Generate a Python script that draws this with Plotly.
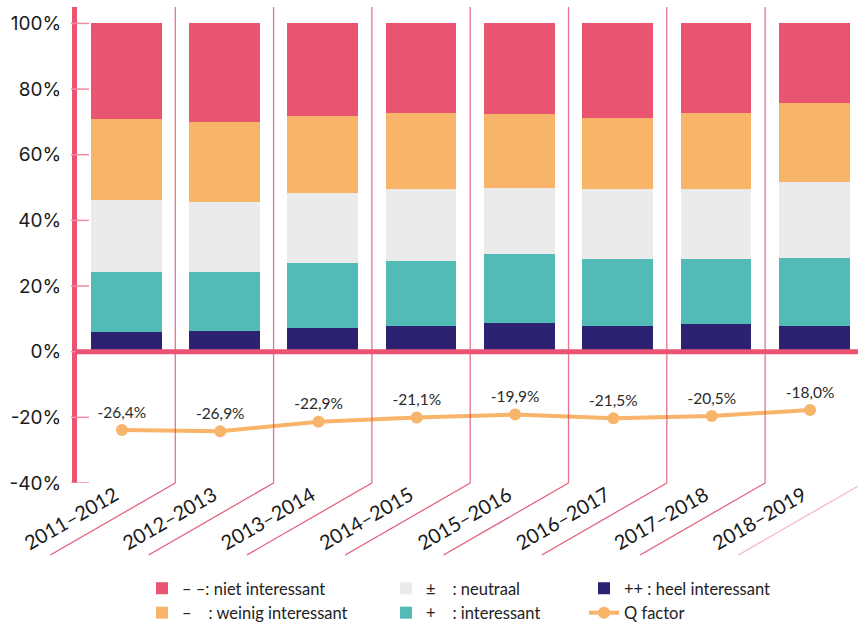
import plotly.graph_objects as go

seasons = ["2011–2012", "2012–2013", "2013–2014", "2014–2015",
           "2015–2016", "2016–2017", "2017–2018", "2018–2019"]
heel_interessant = [6.0, 6.3, 7.2, 7.8, 8.7, 7.8, 8.4, 7.8]
interessant = [18.2, 17.9, 19.8, 19.8, 21.0, 20.4, 19.8, 20.7]
neutraal = [22.0, 21.3, 21.3, 21.9, 20.1, 21.3, 21.3, 23.1]
weinig_interessant = [24.6, 24.4, 23.4, 23.1, 22.5, 21.6, 23.1, 24.3]
niet_interessant = [29.2, 30.1, 28.3, 27.4, 27.7, 28.9, 27.4, 24.1]
q_factor = [-26.4, -26.9, -22.9, -21.1, -19.9, -21.5, -20.5, -18.0]
y_ticks = [100, 80, 60, 40, 20, 0, -20, -40]
y_tick_labels = ["100%", "80%", "60%", "40%", "20%", "0%", "-20%", "-40%"]

NBSP = "\u00a0"
names = {
    "niet": "–" + NBSP + "–: niet interessant",
    "weinig": "–" + NBSP * 4 + ": weinig interessant",
    "neutraal": "±" + NBSP * 4 + ": neutraal",
    "interessant": "+" + NBSP * 4 + ": interessant",
    "heel": "++" + NBSP + ": heel interessant",
    "q": "Q factor",
}

C_PINK = "#E95471"
C_ORANGE = "#F8B469"
C_GRAY = "#EBEBEB"
C_TEAL = "#53BBB6"
C_NAVY = "#2B2272"
C_AXIS = "#EB5373"

FONT = "Lato, 'Noto Sans', sans-serif"

fig = go.Figure()
bar_w = 0.72
for vals, name, col, leg in [
    (heel_interessant, names["heel"], C_NAVY, "legend3"),
    (interessant, names["interessant"], C_TEAL, "legend2"),
    (neutraal, names["neutraal"], C_GRAY, "legend2"),
    (weinig_interessant, names["weinig"], C_ORANGE, "legend"),
    (niet_interessant, names["niet"], C_PINK, "legend"),
]:
    fig.add_trace(go.Bar(x=seasons, y=vals, name=name, marker_color=col,
                         marker_line_width=0, width=bar_w, legend=leg,
                         hoverinfo="skip"))

q_text = [("%.1f" % v).replace(".", ",") + "%" for v in q_factor]
fig.add_trace(go.Scatter(
    x=seasons, y=q_factor, name=names["q"], mode="lines+markers+text",
    line=dict(color=C_ORANGE, width=4), marker=dict(size=12, color=C_ORANGE),
    text=q_text, textposition="top center",
    textfont=dict(family=FONT, size=15.5, color="#2a2a2a"),
    xaxis="x2", yaxis="y2", legend="legend3", cliponaxis=False))

# geometry
L, T, B = 77, 7, 142
W, H = 858, 625
pw, ph = W - L, H - T - B
xr = [-0.5, 7.445]
xoff = 0.043
yr = [-40, 105]
y2r = [-48.66, 151.3]

def xpaper(v):
    return (v - xr[0]) / (xr[1] - xr[0])

shapes = []
# vertical separators + diagonal lines
for i in range(len(seasons)):
    b = i + 0.5
    xp = xpaper(b)
    last = i == len(seasons) - 1
    if not last:
        shapes.append(dict(type="line", xref="paper", yref="paper", x0=xp, x1=xp,
                           y0=0, y1=1, line=dict(color="rgba(222,70,100,0.75)", width=1.3),
                           layer="above"))
    shapes.append(dict(type="line", xref="paper", yref="paper", x0=xp,
                       x1=xp - 125 / pw, y0=0, y1=-72 / ph,
                       line=dict(color="#F5B3C2" if last else "#E05A75", width=1.2),
                       layer="above"))
# y tick marks crossing the axis
for t in y_ticks:
    shapes.append(dict(type="line", xref="paper", yref="y", x0=-6 / pw, x1=12 / pw,
                       y0=t, y1=t, line=dict(color="#F28BA3", width=1.5), layer="above"))
# thick zero line
shapes.append(dict(type="line", xref="paper", yref="y", x0=-2 / pw, x1=1,
                   y0=0, y1=0, line=dict(color=C_AXIS, width=5), layer="above"))

legend_common = dict(orientation="v", xanchor="left", yanchor="top",
                     font=dict(family=FONT, size=16.5, color="#222222"),
                     bgcolor="rgba(0,0,0,0)", tracegroupgap=0, itemwidth=30,
                     itemclick=False, itemdoubleclick=False)
ly = -88 / ph

fig.update_layout(
    width=W, height=H,
    margin=dict(l=L, r=0, t=T, b=B, pad=0, autoexpand=False),
    paper_bgcolor="white", plot_bgcolor="white",
    barmode="stack", bargap=0,
    showlegend=True,
    legend=dict(x=(142 - L) / pw, y=ly, traceorder="reversed", **legend_common),
    legend2=dict(x=(386 - L) / pw, y=ly, traceorder="reversed", **legend_common),
    legend3=dict(x=(584 - L) / pw, y=ly, traceorder="normal", **legend_common),
    xaxis=dict(type="category", range=xr, showgrid=False, zeroline=False,
               showline=False, ticks="", tickangle=-30, ticklabelshift=-11,
               ticklabelstandoff=-4, automargin=False,
               tickfont=dict(family=FONT, size=20, color="#1a1a1a")),
    xaxis2=dict(type="category", range=[xr[0] + xoff, xr[1] + xoff], overlaying="x",
                visible=False),
    yaxis=dict(range=yr, tickvals=y_ticks, ticktext=y_tick_labels, automargin=False,
               showgrid=False, zeroline=False, showline=True, linewidth=5,
               linecolor=C_AXIS, ticks="", ticklabelstandoff=7,
               tickfont=dict(family="Inter, sans-serif", size=19, color="#1a1a1a")),
    yaxis2=dict(range=y2r, overlaying="y", visible=False),
    shapes=shapes,
)

fig.write_html("out.html", config={"displayModeBar": False},
               post_script="document.body.style.margin='0';")
